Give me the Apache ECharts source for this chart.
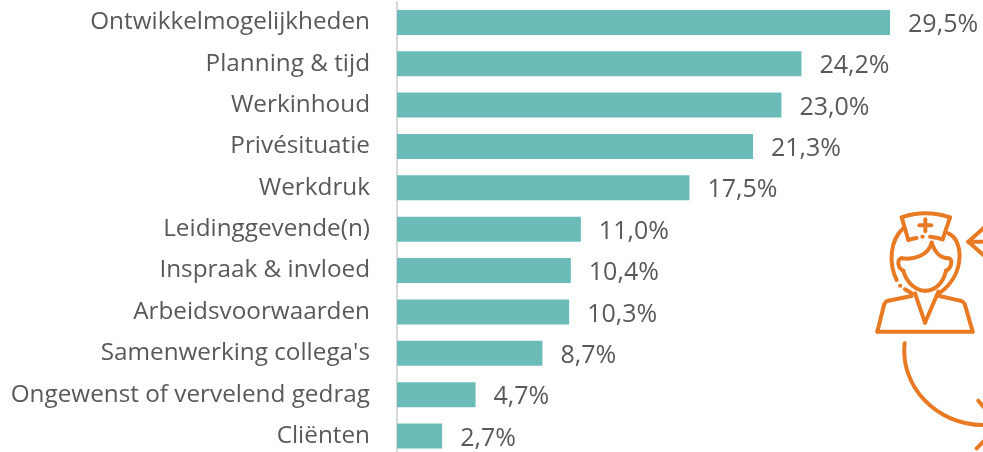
<!DOCTYPE html>
<html>
<head>
<meta charset="utf-8">
<style>
  html, body { margin: 0; padding: 0; background: #fff; }
  #chart { width: 983px; height: 452px; }
</style>
<script src="https://cdn.jsdelivr.net/npm/echarts@6/dist/echarts.min.js"></script>
</head>
<body>
<div id="chart"></div>
<script>
const categories = ['Ontwikkelmogelijkheden', 'Planning & tijd', 'Werkinhoud', 'Privésituatie', 'Werkdruk',
  'Leidinggevende(n)', 'Inspraak & invloed', 'Arbeidsvoorwaarden', "Samenwerking collega's",
  'Ongewenst of vervelend gedrag', 'Cliënten'];
const percentages = [29.5, 24.2, 23.0, 21.3, 17.5, 11.0, 10.4, 10.3, 8.7, 4.7, 2.7];

const textColor = '#595959';
const orange = '#e97a24';

// nurse icon, traced in 3x crop coordinates and scaled down in the group below
// 4 numbers = line, 6 = quadratic, 8 = cubic
const iconSegments = [
  // cap
  [185, 82, 255, 58, 330, 82], [330, 82, 308, 148], [308, 148, 290, 142, 270, 140],
  [185, 82, 205, 150], [205, 150, 218, 146, 230, 144],
  [256, 88, 256, 124], [238, 106, 274, 106], [247, 140, 248, 140],
  // hair
  [190, 115, 150, 150, 145, 220, 170, 270], [325, 130, 372, 150, 375, 255, 300, 308], [180, 287, 181, 287],
  // face
  [275, 158, 265, 195, 225, 210, 185, 205], [185, 205, 170, 205, 172, 235, 190, 242],
  [190, 242, 200, 280, 230, 302, 255, 302], [255, 302, 285, 302, 310, 280, 318, 242],
  [318, 242, 335, 235, 340, 205, 325, 205], [325, 205, 305, 205, 285, 190, 275, 158],
  // body
  [215, 318, 145, 332], [145, 332, 135, 335, 132, 345], [132, 345, 112, 425], [112, 425, 398, 425],
  [398, 425, 375, 345], [375, 345, 372, 335, 360, 332], [360, 332, 298, 318],
  [225, 310, 255, 398], [255, 398, 295, 305], [195, 298, 215, 310],
  // arrow, arc and sparks cut off at the right edge
  [430, 115, 385, 155], [385, 155, 430, 195], [385, 155, 430, 155],
  [194, 460, 180, 590, 290, 705, 430, 705],
  [415, 632, 430, 650], [410, 775, 430, 755]
];

const iconStyle = { fill: 'none', stroke: orange, lineWidth: 12, lineCap: 'round', lineJoin: 'round' };

function iconShape(s) {
  if (s.length === 4) {
    return { type: 'line', shape: { x1: s[0], y1: s[1], x2: s[2], y2: s[3] }, style: iconStyle };
  }
  const shape = { x1: s[0], y1: s[1], cpx1: s[2], cpy1: s[3] };
  if (s.length === 6) {
    shape.x2 = s[4];
    shape.y2 = s[5];
  } else {
    shape.cpx2 = s[4];
    shape.cpy2 = s[5];
    shape.x2 = s[6];
    shape.y2 = s[7];
  }
  return { type: 'bezierCurve', shape: shape, style: iconStyle };
}

const chart = echarts.init(document.getElementById('chart'));
chart.setOption({
  animation: false,
  grid: { left: 397, top: 1.7, width: 585, height: 455, outerBoundsMode: 'none' },
  xAxis: { type: 'value', min: 0, max: 35, show: false },
  yAxis: {
    type: 'category',
    inverse: true,
    data: categories,
    axisTick: { show: false },
    axisLine: { lineStyle: { color: '#d9d9d9', width: 2 } },
    axisLabel: {
      color: textColor,
      fontFamily: 'Open Sans',
      fontSize: 24.3,
      margin: 27,
      padding: [3, 0, 0, 0],
      hideOverlap: false,
      interval: 0
    }
  },
  series: [{
    type: 'bar',
    data: percentages,
    barWidth: 25,
    itemStyle: { color: '#6bbcb8' },
    label: {
      show: true,
      position: 'right',
      distance: 18,
      offset: [0, 2.5],
      color: textColor,
      fontFamily: 'Open Sans',
      fontSize: 25,
      formatter: p => p.value.toFixed(1).replace('.', ',') + '%'
    }
  }],
  graphic: [{
    type: 'group',
    x: 840,
    y: 190,
    scaleX: 1 / 3,
    scaleY: 1 / 3,
    children: iconSegments.map(iconShape)
  }]
});
</script>
</body>
</html>
